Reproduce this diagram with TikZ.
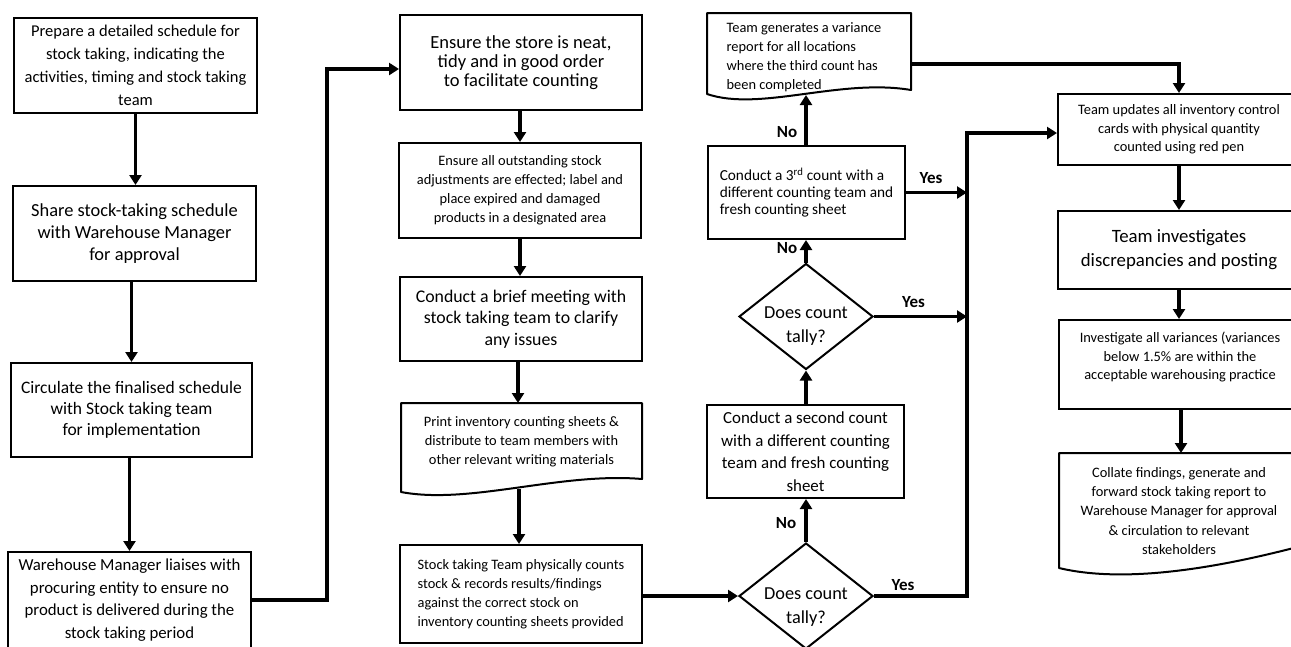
\documentclass[tikz,border=0pt]{standalone}
\usepackage{fontspec}
\setmainfont{Carlito}
\usetikzlibrary{arrows.meta,shapes.geometric,calc}

\begin{document}
\begin{tikzpicture}[x=1pt,y=-1pt,
  fz/.style 2 args={font=\fontsize{#1}{#2}\selectfont},
  box/.style={draw, rectangle, line width=2pt, inner sep=0pt, align=center},
  txt/.style={inner sep=0pt, align=center},
  docline/.style={draw, line width=2pt, line join=round},
  dia/.style={draw, diamond, line width=2pt, inner sep=0pt,
              minimum width=134pt, minimum height=106pt},
  flow/.style={line width=3.2pt, -{Triangle[length=10pt,width=12pt]}},
  ans/.style={inner sep=0pt, font=\fontsize{17}{19}\selectfont\bfseries}]

\useasboundingbox (0,0) rectangle (1291,646);
\clip (0,0) rectangle (1291,646);

% ---------- first column: planning ----------
\node[box, minimum width=243pt, minimum height=95pt, fz={16.5}{23}] (A) at (135.5,65.5)
  {Prepare a detailed schedule for\\stock taking, indicating the\\activities, timing and stock taking\\team};
\node[box, minimum width=243pt, minimum height=95pt, fz={18.4}{22}] (B) at (134.5,233.5)
  {Share stock-taking schedule\\with Warehouse Manager\\for approval};
\node[box, minimum width=241pt, minimum height=94pt, fz={17.5}{21}] (C) at (131.5,410)
  {Circulate the finalised schedule\\with Stock taking team\\for implementation};
\node[box, minimum width=243pt, minimum height=96pt, fz={16.8}{22.5}] (D) at (129.5,600)
  {Warehouse Manager liaises with\\procuring entity to ensure no\\product is delivered during the\\stock taking period};

% ---------- second column: preparation and first count ----------
\node[box, minimum width=242pt, minimum height=95pt, fz={18.5}{19.3}] (E) at (521,62.5)
  {Ensure the store is neat,\\tidy and in good order\\to facilitate counting};
\node[box, minimum width=242pt, minimum height=95pt, fz={14.4}{19}] (F) at (520,190.5)
  {Ensure all outstanding stock\\adjustments are effected; label and\\place expired and damaged\\products in a designated area};
\node[box, minimum width=242pt, minimum height=84pt, fz={17.8}{21.5}] (G) at (521,319)
  {Conduct a brief meeting with\\stock taking team to clarify\\any issues};
% document shape: printed counting sheets
\draw[docline] (401,403) -- (642,403) -- (642,479)
  .. controls (560,472) and (470,505) .. (401,492) -- cycle;
\node[txt, fz={14.4}{19}] (H) at (521.5,442)
  {Print inventory counting sheets \&\\distribute to team members with\\other relevant writing materials};
\coordinate (Htop) at (518,403);
\coordinate (Hbot) at (519,489);
\node[box, align=left, minimum width=242pt, minimum height=98pt, fz={14.4}{19}] (I) at (521,594)
  {Stock taking Team physically counts\\stock \& records results/findings\\against the correct stock on\\inventory counting sheets provided};

% ---------- third column: recounts ----------
\node[dia] (Q1) at (806,596) {};
\node[txt, fz={18.3}{24}] (Q1t) at (806,607) {Does count\\tally?};
\node[box, minimum width=197pt, minimum height=93pt, fz={16.9}{22.5}] (J) at (805.5,451.5)
  {Conduct a second count\\with a different counting\\team and fresh counting\\sheet};
\node[dia] (Q2) at (806,316.5) {};
\node[txt, fz={18.3}{24}] (Q2t) at (806,326.5) {Does count\\tally?};
\node[box, align=left, minimum width=197pt, minimum height=93pt, fz={15.3}{17}] (K) at (806.5,192.5)
  {Conduct a 3\textsuperscript{rd} count with a\\different counting team and\\fresh counting sheet};
% document shape: variance report
\draw[docline] (707,13) -- (911,13) -- (911,90)
  .. controls (840,78) and (760,112) .. (707,94) -- cycle;
\node[txt, align=left, fz={14.4}{19}] (L) at (804,57.5)
  {Team generates a variance\\report for all locations\\where the third count has\\been completed};
\coordinate (Lbot) at (806,95);
\coordinate (Lr) at (911,64);
\coordinate (bus) at (967,133);

% ---------- fourth column: posting and reporting ----------
\node[box, minimum width=242pt, minimum height=71pt, fz={14.4}{18.5}] (M) at (1179,129.5)
  {Team updates all inventory control\\cards with physical quantity\\counted using red pen};
\node[box, minimum width=242pt, minimum height=78pt, fz={18.8}{24}] (N) at (1179,250)
  {Team investigates\\discrepancies and posting};
\node[box, minimum width=242pt, minimum height=89pt] (O) at (1180,364.5) {};
\node[txt, fz={14.4}{18.5}] (Ot) at (1180,357)
  {Investigate all variances (variances\\below 1.5\% are within the\\acceptable warehousing practice};
% document shape: stock taking report
\draw[docline] (1059,453) -- (1305,453) -- (1305,545)
  .. controls (1230,565) and (1130,585) .. (1059,568) -- cycle;
\node[txt, fz={14.4}{19.2}] (P) at (1179,511)
  {Collate findings, generate and\\forward stock taking report to\\Warehouse Manager for approval\\\& circulation to relevant\\stakeholders};
\coordinate (Ptop) at (1181,453);

% ---------- connectors ----------
\draw[flow] (A.south) -- (A.south |- B.north);
\draw[flow] (B.south -| C.north) -- (C.north);
\draw[flow] (C.south -| D.north) -- (D.north);
\coordinate (r1) at (327,69);
\draw[flow] (D.east) -| (r1) -- (r1 -| E.west);

\draw[flow] (E.south -| F.north) -- (F.north);
\draw[flow] (F.south) -- (F.south |- G.north);
\draw[flow] (G.south -| Htop) -- (Htop);
\draw[flow] (Hbot) -- (Hbot |- I.north);
\draw[flow] (Q1.west -| I.east) -- (Q1.west);

\draw[flow] (Q1.north) -- (Q1.north |- J.south);
\node[ans] (n1) at (786,523) {No};
\draw[flow] (J.north -| Q2.south) -- (Q2.south);
\draw[flow] (Q2.north) -- (Q2.north |- K.south);
\node[ans] (n2) at (787,248) {No};
\draw[flow] (K.north -| Lbot) -- (Lbot);
\node[ans] (n3) at (787,132) {No};

\draw[flow] (K.east) -- (K.east -| bus);
\node[ans] (y3) at (931,178) {Yes};
\draw[flow] (Q2.east) -- (Q2.east -| bus);
\node[ans] (y2) at (913.5,302) {Yes};
\draw[flow] (Q1.east) -| (bus) -- (bus -| M.west);
\node[ans] (y1) at (903,585) {Yes};

\draw[flow] (Lr) -| (M.north);
\draw[flow] (M.south) -- (N.north);
\draw[flow] (N.south) -- (N.south |- O.north);
\draw[flow] (O.south -| Ptop) -- (Ptop);

\end{tikzpicture}
\end{document}
